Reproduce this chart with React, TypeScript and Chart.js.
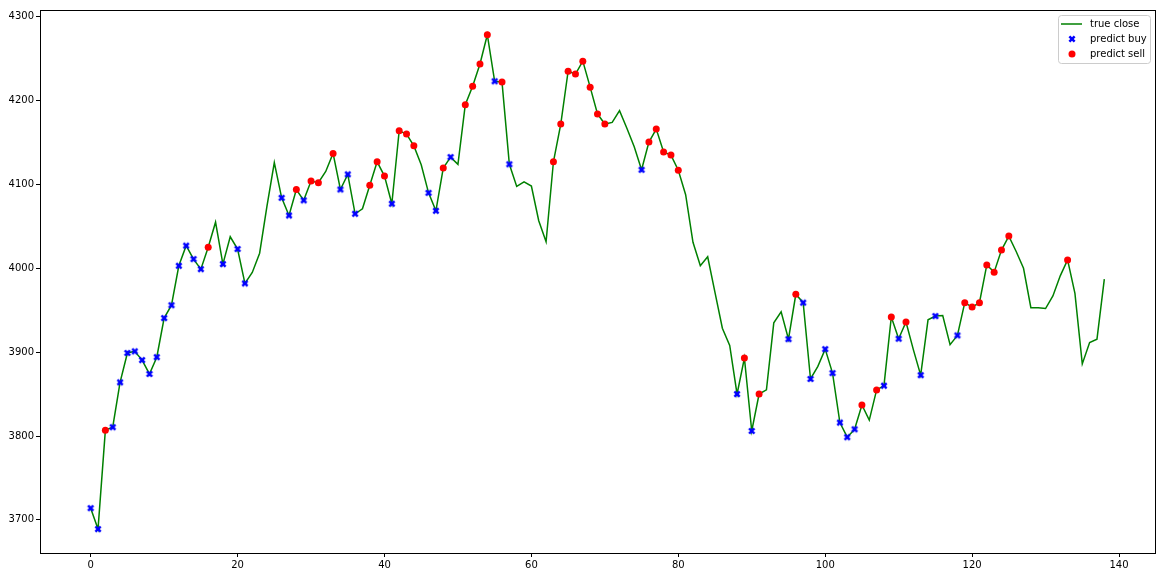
import React, { useEffect, useRef } from "react";
import { Chart, registerables } from "chart.js";

Chart.register(...registerables);

const closeValues: number[] = [
  3714, 3689, 3807, 3810.5, 3864, 3899, 3901, 3890.5, 3874, 3894,
  3940.6, 3956, 4003, 4027, 4011, 3999, 4025, 4055, 4005, 4037.6,
  4023, 3982, 3995, 4018, 4074, 4126, 4084, 4063, 4094, 4081,
  4104, 4102, 4115.5, 4137, 4094, 4112, 4065, 4071, 4099, 4127,
  4110, 4077, 4164, 4160, 4146, 4123.5, 4090, 4068.6, 4119.5, 4132.6,
  4124, 4195, 4217, 4243.6, 4278.5, 4223, 4222, 4124, 4097.6, 4103,
  4098, 4056.7, 4031.6, 4127, 4172, 4235, 4231.6, 4247, 4216, 4184,
  4172, 4174, 4188, 4167, 4145, 4117.5, 4150.5, 4166, 4138.6, 4135,
  4117, 4087.7, 4031, 4003, 4013.7, 3971, 3928.6, 3908, 3850, 3893,
  3806, 3850, 3855, 3935, 3948, 3915.5, 3969, 3959, 3868, 3883,
  3903.6, 3875, 3816, 3798.6, 3808, 3837, 3819, 3855, 3860, 3942,
  3916, 3936, 3903, 3872.6, 3938.6, 3943, 3943.7, 3909, 3920, 3959,
  3953.7, 3959, 4004, 3995.4, 4021.7, 4038.4, 4020, 4000, 3953, 3953,
  3952, 3967, 3991, 4010, 3970, 3886, 3911.5, 3915.5, 3987,
];

const buyIndices: number[] = [
  0, 1, 3, 4, 5, 6, 7, 8, 9, 10, 11, 12, 13, 14, 15, 18, 20, 21, 26, 27, 29,
  34, 35, 36, 41, 46, 47, 49, 55, 57, 75, 88, 90, 95, 97, 98, 100, 101, 102,
  103, 104, 108, 110, 113, 115, 118,
];

const sellIndices: number[] = [
  2, 16, 28, 30, 31, 33, 38, 39, 40, 42, 43, 44, 48, 51, 52, 53, 54, 56, 63,
  64, 65, 66, 67, 68, 69, 70, 76, 77, 78, 79, 80, 89, 91, 96, 105, 107, 109,
  111, 119, 120, 121, 122, 123, 124, 125, 133,
];

const xTickValues: number[] = [0, 20, 40, 60, 80, 100, 120, 140];
const yTickValues: number[] = [3700, 3800, 3900, 4000, 4100, 4200, 4300];
const legendLabels: string[] = ["true close", "predict buy", "predict sell"];

const FONT = "'DejaVu Sans', sans-serif";

function makeXMarker(): HTMLCanvasElement {
  const c = document.createElement("canvas");
  c.width = 10;
  c.height = 10;
  const ctx = c.getContext("2d")!;
  ctx.translate(5, 5);
  ctx.rotate(Math.PI / 4);
  ctx.fillStyle = "#0000ff";
  const a = 1.25;
  const b = 3.7;
  ctx.fillRect(-b, -a, 2 * b, 2 * a);
  ctx.fillRect(-a, -b, 2 * a, 2 * b);
  return c;
}

export default function App() {
  const canvasRef = useRef<HTMLCanvasElement | null>(null);

  useEffect(() => {
    const canvas = canvasRef.current;
    if (!canvas) return;
    const xMarker = makeXMarker();

    const lineData = closeValues.map((v, i) => ({ x: i, y: v }));
    const buyData = buyIndices.map((i) => ({ x: i, y: closeValues[i] }));
    const sellData = sellIndices.map((i) => ({ x: i, y: closeValues[i] }));

    const framePlugin = {
      id: "frameAndLegend",
      afterDraw(chart: any) {
        const { ctx, chartArea } = chart;
        ctx.save();
        // frame (spines)
        ctx.strokeStyle = "#000";
        ctx.lineWidth = 1;
        ctx.strokeRect(
          Math.round(chartArea.left) + 0.5,
          Math.round(chartArea.top) + 0.5,
          Math.round(chartArea.right - chartArea.left),
          Math.round(chartArea.bottom - chartArea.top)
        );
        // legend
        const bw = 92;
        const bh = 48;
        const bx = chartArea.right - 5 - bw;
        const by = chartArea.top + 5;
        ctx.beginPath();
        (ctx as any).roundRect(bx + 0.5, by + 0.5, bw, bh, 3);
        ctx.fillStyle = "rgba(255,255,255,0.8)";
        ctx.fill();
        ctx.strokeStyle = "#cccccc";
        ctx.lineWidth = 1;
        ctx.stroke();

        const rowY = [by + 9, by + 24, by + 39];
        const symX = bx + 14;
        // line sample
        ctx.beginPath();
        ctx.moveTo(bx + 3, rowY[0]);
        ctx.lineTo(bx + 24, rowY[0]);
        ctx.strokeStyle = "#008000";
        ctx.lineWidth = 1.5;
        ctx.stroke();
        // buy marker
        ctx.drawImage(xMarker, symX - 5, rowY[1] - 5);
        // sell marker
        ctx.beginPath();
        ctx.arc(symX, rowY[2], 3.5, 0, Math.PI * 2);
        ctx.fillStyle = "#ff0000";
        ctx.fill();

        ctx.fillStyle = "#000";
        ctx.font = `10px ${FONT}`;
        ctx.textAlign = "left";
        ctx.textBaseline = "middle";
        legendLabels.forEach((t, k) => {
          ctx.fillText(t, bx + 32, rowY[k]);
        });
        ctx.restore();
      },
    };

    const chart = new Chart(canvas, {
      type: "line",
      data: {
        datasets: [
          {
            type: "line",
            label: legendLabels[0],
            data: lineData,
            borderColor: "#008000",
            backgroundColor: "#008000",
            borderWidth: 1.5,
            pointRadius: 0,
            tension: 0,
            order: 2,
          } as any,
          {
            type: "scatter",
            label: legendLabels[1],
            data: buyData,
            pointStyle: xMarker,
            pointRadius: 4,
            backgroundColor: "#0000ff",
            borderColor: "#0000ff",
            showLine: false,
            order: 1,
          } as any,
          {
            type: "scatter",
            label: legendLabels[2],
            data: sellData,
            pointStyle: "circle",
            pointRadius: 3.5,
            backgroundColor: "#ff0000",
            borderColor: "#ff0000",
            borderWidth: 0,
            showLine: false,
            order: 0,
          } as any,
        ],
      },
      options: {
        responsive: false,
        animation: false,
        events: [],
        layout: { padding: { top: 10, right: 11, left: 0, bottom: 0 } },
        plugins: {
          legend: { display: false },
          tooltip: { enabled: false },
          title: { display: false },
        },
        scales: {
          x: {
            type: "linear",
            min: -6.9,
            max: 144.9,
            afterBuildTicks: (scale: any) => {
              scale.ticks = xTickValues.map((v) => ({ value: v }));
            },
            afterFit: (scale: any) => {
              scale.height = 25;
            },
            grid: {
              display: true,
              drawOnChartArea: false,
              drawTicks: true,
              tickLength: 4,
              tickColor: "#000",
              tickWidth: 1,
            },
            border: { display: false },
            ticks: {
              autoSkip: false,
              maxRotation: 0,
              padding: 2,
              color: "#000",
              font: { family: FONT, size: 10 },
              callback: (v: any) => String(v),
            },
          },
          y: {
            type: "linear",
            min: 3660.5,
            max: 4308,
            afterBuildTicks: (scale: any) => {
              scale.ticks = yTickValues.map((v) => ({ value: v }));
            },
            afterFit: (scale: any) => {
              scale.width = 40;
            },
            grid: {
              display: true,
              drawOnChartArea: false,
              drawTicks: true,
              tickLength: 4,
              tickColor: "#000",
              tickWidth: 1,
            },
            border: { display: false },
            ticks: {
              autoSkip: false,
              padding: 2,
              color: "#000",
              font: { family: FONT, size: 10 },
              callback: (v: any) => String(v),
            },
          },
        },
      },
      plugins: [framePlugin],
    } as any);

    return () => {
      chart.destroy();
    };
  }, []);

  return (
    <div
      style={{
        position: "fixed",
        left: 0,
        top: 0,
        width: 1166,
        height: 578,
        background: "#fff",
      }}
    >
      <canvas ref={canvasRef} width={1166} height={578} />
    </div>
  );
}
